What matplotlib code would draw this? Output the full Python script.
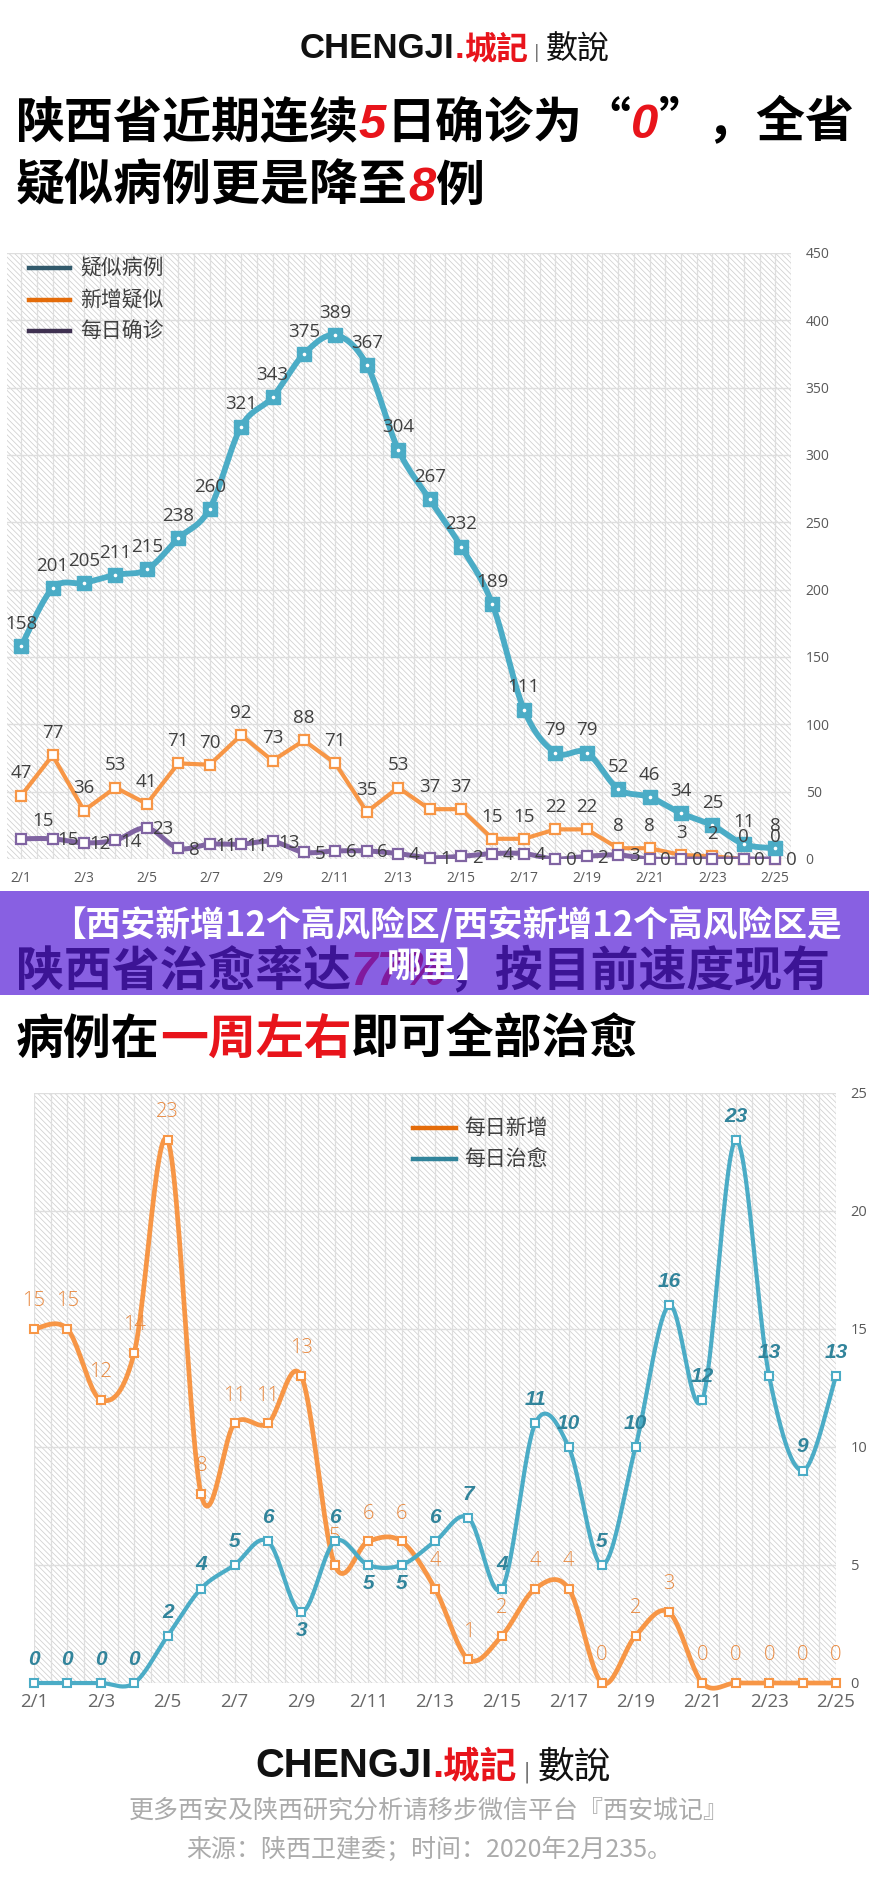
import numpy as np
import matplotlib
matplotlib.use("Agg")
import matplotlib.pyplot as plt
from matplotlib.patches import Rectangle

# ---------------- data ----------------
dates = ["2/1", "2/2", "2/3", "2/4", "2/5", "2/6", "2/7", "2/8", "2/9", "2/10",
         "2/11", "2/12", "2/13", "2/14", "2/15", "2/16", "2/17", "2/18", "2/19",
         "2/20", "2/21", "2/22", "2/23", "2/24", "2/25"]

# chart 1
suspected = [158, 201, 205, 211, 215, 238, 260, 321, 343, 375, 389, 367, 304,
             267, 232, 189, 111, 79, 79, 52, 46, 34, 25, 11, 8]
new_suspected = [47, 77, 36, 53, 41, 71, 70, 92, 73, 88, 71, 35, 53, 37, 37,
                 15, 15, 22, 22, 8, 8, 3, 2, 0, 0]
daily_confirmed = [15, 15, 12, 14, 23, 8, 11, 11, 13, 5, 6, 6, 4, 1, 2, 4, 4,
                   0, 2, 3, 0, 0, 0, 0, 0]
legend1 = ["疑似病例", "新增疑似", "每日确诊"]
yticks1 = [0, 50, 100, 150, 200, 250, 300, 350, 400, 450]

# chart 2
daily_new = [15, 15, 12, 14, 23, 8, 11, 11, 13, 5, 6, 6, 4, 1, 2, 4, 4, 0, 2,
             3, 0, 0, 0, 0, 0]
daily_cured = [0, 0, 0, 0, 2, 4, 5, 6, 3, 6, 5, 5, 6, 7, 4, 11, 10, 5, 10, 16,
               12, 23, 13, 9, 13]
legend2 = ["每日新增", "每日治愈"]
yticks2 = [0, 5, 10, 15, 20, 25]

# ---------------- style ----------------
W, H = 869, 1886
plt.rcParams["font.family"] = ["Open Sans", "Noto Sans CJK SC", "DejaVu Sans"]
plt.rcParams["hatch.linewidth"] = 0.55

BLUE = "#4BACC6"
ORANGE = "#F79646"
PURPLE = "#8064A2"
RED = "#E8141B"
CJK = ["Noto Sans CJK SC", "DejaVu Sans"]
CJK_TC = ["Noto Sans CJK TC", "DejaVu Sans"]

fig = plt.figure(figsize=(W / 100, H / 100), dpi=100)
fig.patch.set_facecolor("white")
renderer = fig.canvas.get_renderer()


def fy(y):
    return 1 - y / H


def rich(x, cy, pieces, size, ha="left", zorder=3):
    """pieces: list of (text, color, kwargs). cy = visual centre (px)."""
    base = cy + 0.36 * size / 0.72
    texts = []
    cur = x
    for s, color, kw in pieces:
        kw = dict(kw)
        t = fig.text(cur / W, fy(base), s, color=color, fontsize=kw.pop("size", size),
                     va="baseline", ha="left", zorder=zorder, **kw)
        bb = t.get_window_extent(renderer)
        cur += bb.width
        texts.append(t)
    if ha == "center":
        shift = (cur - x) / 2
        for t in texts:
            px, py = t.get_position()
            t.set_position((px - shift / W, py))
    return texts


def smooth(vals, n=24):
    y = np.asarray(vals, float)
    x = np.arange(len(y), dtype=float)
    P = np.column_stack([x, y])
    Pe = np.vstack([P[0], P, P[-1]])
    t = np.linspace(0, 1, n)[:, None]
    out = []
    for i in range(len(P) - 1):
        p0, p1, p2, p3 = Pe[i], Pe[i + 1], Pe[i + 2], Pe[i + 3]
        c1 = p1 + (p2 - p0) / 6
        c2 = p2 - (p3 - p1) / 6
        seg = (1 - t) ** 3 * p1 + 3 * (1 - t) ** 2 * t * c1 + 3 * (1 - t) * t ** 2 * c2 + t ** 3 * p2
        out.append(seg if i == 0 else seg[1:])
    a = np.vstack(out)
    return a[:, 0], a[:, 1]


def hatch_bg(ax, step):
    ax.add_patch(Rectangle((0, 0), 1, 1, transform=ax.transAxes, facecolor="white",
                           edgecolor="#CFCFCF", hatch="\\\\\\\\\\\\", lw=0, zorder=0))
    lo, hi = ax.get_xlim()
    for v in np.arange(np.floor(lo * 2) / 2, hi + 0.01, step):
        if lo <= v <= hi:
            ax.axvline(v, color="#DEDEDE", lw=0.9, zorder=0.5)
    for s in ax.spines.values():
        s.set_visible(False)


# ---------------- logo / titles ----------------
def logo(cx, cy, scale):
    rich(cx, cy, [
        ("CHENGJI", "#111111", dict(family=["Liberation Sans"], weight="bold", size=25 * scale)),
        (".", RED, dict(family=["Liberation Sans"], weight="bold", size=25 * scale)),
        ("城記", RED, dict(family=CJK_TC, weight="bold", size=23 * scale)),
        (" | ", "#777777", dict(family=["DejaVu Sans"], size=13 * scale)),
        ("數說", "#111111", dict(family=CJK_TC, size=23 * scale)),
    ], 25 * scale, ha="center")


logo(455, 46, 1.0)

TS = 35.3
rich(16, 120, [
    ("陕西省近期连续", "black", dict(family=CJK, weight="bold")),
    ("5", RED, dict(family=["Liberation Sans"], weight="bold", style="italic")),
    ("日确诊为“", "black", dict(family=CJK, weight="bold")),
    ("0", RED, dict(family=["Liberation Sans"], weight="bold", style="italic")),
    ("”，全省", "black", dict(family=CJK, weight="bold")),
], TS)
rich(16, 183, [
    ("疑似病例更是降至", "black", dict(family=CJK, weight="bold")),
    ("8", RED, dict(family=["Liberation Sans"], weight="bold", style="italic")),
    ("例", "black", dict(family=CJK, weight="bold")),
], TS)

# second section title (under banner)
TS2 = 34.5
rich(16, 968, [
    ("陕西省治愈率达", "black", dict(family=CJK, weight="bold")),
    ("77%", RED, dict(family=["Liberation Sans"], weight="bold", style="italic")),
    ("，按目前速度现有", "black", dict(family=CJK, weight="bold")),
], TS2, zorder=3)
rich(16, 1037, [
    ("病例在", "black", dict(family=CJK, weight="bold")),
    ("一周左右", RED, dict(family=CJK, weight="bold")),
    ("即可全部治愈", "black", dict(family=CJK, weight="bold")),
], TS2)

# banner overlay
fig.add_artist(Rectangle((0, fy(995)), 1, (995 - 891) / H, transform=fig.transFigure,
                         facecolor=(86 / 255, 29 / 255, 214 / 255), alpha=0.7,
                         edgecolor="none", zorder=10))
fig.text(446 / W, fy(924), "【西安新增12个高风险区/西安新增12个高风险区是", color="white",
         fontsize=25, family=CJK, weight="heavy", ha="center", va="center", zorder=11)
fig.text(439 / W, fy(966), "哪里】", color="white", fontsize=25, family=CJK,
         weight="heavy", ha="center", va="center", zorder=11)

# ---------------- chart 1 ----------------
L, R, T, B = 7, 791, 253, 859
ax1 = fig.add_axes([L / W, fy(B), (R - L) / W, (B - T) / H])
ax1.set_xlim(-0.45, 24.5)
ax1.set_ylim(0, 450)
hatch_bg(ax1, 0.5)
for v in yticks1:
    ax1.axhline(v, color="#DEDEDE", lw=1.0, zorder=0.6)

x = np.arange(len(dates))
xs, ys = smooth(suspected)
ax1.plot(xs, ys, color=BLUE, lw=4.2, zorder=4, solid_capstyle="round")
ax1.plot(x, suspected, "s", color=BLUE, ms=9.5, zorder=5, clip_on=False)
ax1.plot(x, suspected, "o", color="white", ms=1.6, zorder=6, clip_on=False)

ax1.plot(x, new_suspected, color=ORANGE, lw=3.0, zorder=3, solid_joinstyle="round")
ax1.plot(x, new_suspected, "s", mfc="white", mec=ORANGE, mew=1.6, ms=6.5, zorder=3.5,
         clip_on=False)

xs, ys = smooth(daily_confirmed)
ax1.plot(xs, ys, color=PURPLE, lw=3.6, zorder=3.6)
ax1.plot(x, daily_confirmed, "s", mfc="white", mec=PURPLE, mew=1.6, ms=6.5, zorder=3.7,
         clip_on=False)

lab1 = dict(fontsize=13.5, color="#404040", ha="center", va="center",
            textcoords="offset points", zorder=7, annotation_clip=False)
for i, v in enumerate(suspected):
    ax1.annotate(str(v), (i, v), xytext=(0, 16), **lab1)
for i, v in enumerate(new_suspected):
    ax1.annotate(str(v), (i, v), xytext=(0, 16), **lab1)
for i, v in enumerate(daily_confirmed):
    off = (16, 13) if i == 0 else (11.5, -1)
    ax1.annotate(str(v), (i, v), xytext=off, **lab1)

ax1.set_xticks(range(0, 25, 2))
ax1.set_xticklabels(dates[::2])
ax1.yaxis.tick_right()
ax1.set_yticks(yticks1)
ax1.tick_params(axis="x", length=0, pad=9, labelsize=10, labelcolor="#595959")
ax1.tick_params(axis="y", length=0, pad=10.5, labelsize=10, labelcolor="#595959")
for lab in ax1.get_yticklabels():
    lab.set_ha("left")

leg_cols1 = ["#31596B", "#E46C0A", "#3F3151"]
for k, (name, c) in enumerate(zip(legend1, leg_cols1)):
    yy = [268, 300, 331][k]
    fig.add_artist(plt.Line2D([29 / W, 70 / W], [fy(yy), fy(yy)], color=c, lw=3.2,
                              transform=fig.transFigure, zorder=8))
    fig.text(80 / W, fy(yy), name, fontsize=15, color="#404040", family=CJK,
             va="center", ha="left", zorder=8)

# ---------------- chart 2 ----------------
L2, R2, T2, B2 = 34, 836, 1093, 1683
ax2 = fig.add_axes([L2 / W, fy(B2), (R2 - L2) / W, (B2 - T2) / H])
ax2.set_xlim(0, 24)
ax2.set_ylim(0, 25)
hatch_bg(ax2, 0.5)
for v in yticks2:
    ax2.axhline(v, color="#DEDEDE", lw=1.0, zorder=0.6)

xs, ys = smooth(daily_new)
ax2.plot(xs, ys, color=ORANGE, lw=3.4, zorder=3, clip_on=False)
ax2.plot(x, daily_new, "s", mfc="white", mec=ORANGE, mew=1.5, ms=6, zorder=3.5,
         clip_on=False)
for i, v in enumerate(daily_new):
    ax2.annotate(str(v), (i, v), xytext=(0, 20), textcoords="offset points",
                 ha="center", va="center", fontsize=14.5, color="#E8883E",
                 fontweight="light", zorder=3.2, annotation_clip=False)

xs, ys = smooth(daily_cured)
ax2.plot(xs, ys, color=BLUE, lw=3.0, zorder=4, clip_on=False)
ax2.plot(x, daily_cured, "s", mfc="white", mec=BLUE, mew=1.5, ms=6, zorder=4.5,
         clip_on=False)
below = {8, 10, 11}
for i, v in enumerate(daily_cured):
    dy = -13 if i in below else 17
    ax2.annotate(str(v), (i, v), xytext=(0, dy), textcoords="offset points",
                 ha="center", va="center", fontsize=15, color="#31849B",
                 family=["Liberation Sans"], weight="bold", style="italic",
                 zorder=6, annotation_clip=False)

ax2.set_xticks(range(0, 25, 2))
ax2.set_xticklabels(dates[::2])
ax2.yaxis.tick_right()
ax2.set_yticks(yticks2)
ax2.tick_params(axis="x", length=0, pad=7, labelsize=13.5, labelcolor="#666666")
ax2.tick_params(axis="y", length=0, pad=10.5, labelsize=10.5, labelcolor="#595959")
for lab in ax2.get_yticklabels():
    lab.set_ha("left")

leg_cols2 = ["#E46C0A", "#31849B"]
for k, (name, c) in enumerate(zip(legend2, leg_cols2)):
    yy = [1128, 1159][k]
    fig.add_artist(plt.Line2D([413 / W, 456 / W], [fy(yy), fy(yy)], color=c, lw=3.2,
                              transform=fig.transFigure, zorder=8))
    fig.text(464 / W, fy(yy), name, fontsize=15, color="#404040", family=CJK,
             va="center", ha="left", zorder=8)

# ---------------- footer ----------------
logo(433, 1763, 1.15)
fig.text(429 / W, fy(1811), "更多西安及陕西研究分析请移步微信平台『西安城记』", fontsize=18,
         color="#ABABAB", family=CJK, weight="light", ha="center", va="center")
fig.text(429 / W, fy(1850), "来源：陕西卫建委；时间：2020年2月235。", fontsize=18,
         color="#ABABAB", family=CJK, weight="light", ha="center", va="center")

fig.savefig("out.png", dpi=100, facecolor="white")
